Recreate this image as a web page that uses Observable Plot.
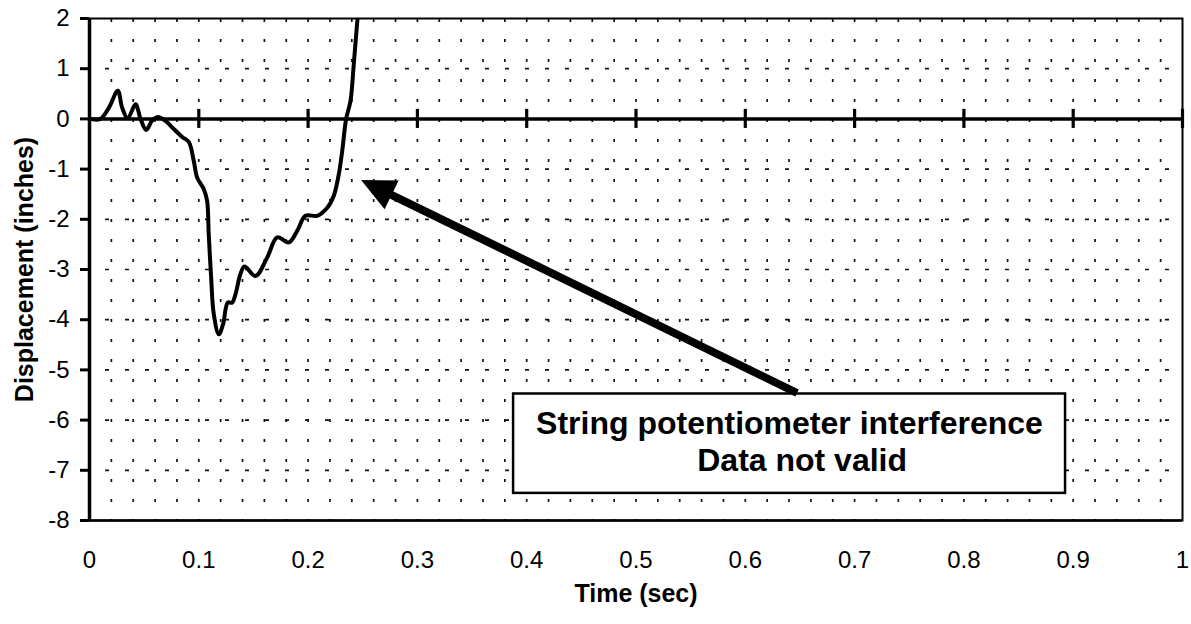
<!DOCTYPE html>
<html>
<head>
<meta charset="utf-8">
<script src="https://cdn.jsdelivr.net/npm/d3@7"></script>
<script src="https://cdn.jsdelivr.net/npm/@observablehq/plot@0.6"></script>
<style>
  html, body { margin: 0; padding: 0; background: #fff; }
  svg { display: block; }
</style>
</head>
<body>
<div id="chart"></div>
<script>
// ---- data ----
const timeSec = [0, 0.010, 0.0177, 0.0259, 0.0299, 0.035, 0.0421, 0.0467, 0.0519, 0.0574, 0.0629, 0.0695, 0.0771, 0.0848, 0.0909, 0.0954, 0.0985, 0.1046, 0.1076, 0.1091, 0.1113, 0.1137, 0.1183, 0.1222, 0.1265, 0.1305, 0.1336, 0.1381, 0.1418, 0.1519, 0.1626, 0.1717, 0.1824, 0.190, 0.1976, 0.2083, 0.2175, 0.2235, 0.2281, 0.2312, 0.2348, 0.2388, 0.2418, 0.2449, 0.2480];
const displacementIn = [0, 0.0, 0.22, 0.56, 0.22, 0.01, 0.29, 0.0, -0.22, -0.03, 0.04, -0.04, -0.20, -0.36, -0.46, -0.84, -1.17, -1.40, -1.63, -2.30, -3.16, -3.89, -4.29, -4.09, -3.66, -3.66, -3.49, -3.09, -2.94, -3.13, -2.76, -2.36, -2.46, -2.23, -1.93, -1.93, -1.77, -1.53, -1.10, -0.64, 0.0, 0.36, 1.09, 1.92, 2.6];

const xTicks = [0, 0.1, 0.2, 0.3, 0.4, 0.5, 0.6, 0.7, 0.8, 0.9, 1];
const yTicks = [2, 1, 0, -1, -2, -3, -4, -5, -6, -7, -8];
const xMinorGrid = d3.range(1, 50).map(i => i / 50);
const yDashedGrid = [1, -1, -2, -3, -4, -5, -6, -7];
const zeroLineTicks = [0.1, 0.2, 0.3, 0.4, 0.5, 0.6, 0.7, 0.8, 0.9, 1];

const xTitle = "Time (sec)";
const yTitle = "Displacement (inches)";

// annotation (in data units)
const noteLines = ["String potentiometer interference", "Data not valid"];
const noteX = [0.6404, 0.652];
const noteY = [-6.08, -6.81];
const noteBox = [{x1: 0.388, x2: 0.893, y1: -5.48, y2: -7.46}];
const arrowTail = {t: 0.6478, v: -5.47};
const arrowTip = {t: 0.2489, v: -1.227};

const series = timeSec.map((t, i) => ({t, v: displacementIn[i]}));
const notes = noteLines.map((text, i) => ({text, x: noteX[i], y: noteY[i]}));

const font = "'Liberation Sans', Arial, Helvetica, sans-serif";

const chart = Plot.plot({
  width: 1191,
  height: 624,
  marginLeft: 89,
  marginRight: 9,
  marginTop: 18,
  marginBottom: 104,
  style: {fontFamily: font, fontSize: "24px", background: "#fff", color: "#000"},
  x: {domain: [0, 1]},
  y: {domain: [-8, 2]},
  marks: [
    // grid
    Plot.ruleX(xMinorGrid, {stroke: "#111", strokeWidth: 1.7, strokeDasharray: "3,17", strokeDashoffset: -1}),
    Plot.ruleY(yDashedGrid, {stroke: "#111", strokeWidth: 1.7, strokeDasharray: "4,16", strokeDashoffset: 4}),
    Plot.frame({stroke: "#000", strokeWidth: 2}),
    // axes lines
    Plot.ruleX([0], {stroke: "#000", strokeWidth: 3.5}),
    Plot.ruleY([-8], {stroke: "#000", strokeWidth: 2.5}),
    Plot.ruleY([0], {stroke: "#000", strokeWidth: 3.5}),
    Plot.ruleX(zeroLineTicks, {y1: -0.19, y2: 0.19, stroke: "#000", strokeWidth: 3.2}),
    Plot.axisY({ticks: yTicks, tickFormat: d => String(d), tickSize: 9, tickPadding: 11, strokeWidth: 3, fontSize: 24, label: null}),
    Plot.axisX({ticks: xTicks, tickFormat: d => String(d), tickSize: 0, tickPadding: 30, fontSize: 24, label: null}),
    // titles
    Plot.text([xTitle], {frameAnchor: "bottom", dy: 81, fontSize: 25, fontWeight: "bold", fill: "#000", textAnchor: "middle"}),
    Plot.text([yTitle], {frameAnchor: "left", dx: -65, rotate: -90, fontSize: 25, fontWeight: "bold", fill: "#000", textAnchor: "middle"}),
    // data
    Plot.line(series, {x: "t", y: "v", curve: "catmull-rom", stroke: "#000", strokeWidth: 4, clip: true}),
    // annotation box
    Plot.rect(noteBox, {x1: "x1", x2: "x2", y1: "y1", y2: "y2", fill: "#fff", stroke: "#000", strokeWidth: 2.5}),
    Plot.text(notes, {x: "x", y: "y", text: "text", fontSize: 32, fontWeight: "bold", fill: "#000"})
  ]
});

// arrow (shaft + filled head) positioned through the plot's scales
const sx = chart.scale("x"), sy = chart.scale("y");
const tx = sx.apply(arrowTail.t), ty = sy.apply(arrowTail.v);
const hx = sx.apply(arrowTip.t), hy = sy.apply(arrowTip.v);
const dxA = tx - hx, dyA = ty - hy, len = Math.hypot(dxA, dyA);
const ux = dxA / len, uy = dyA / len;
const headLen = 34, headHalf = 16;
const bx = hx + ux * headLen, by = hy + uy * headLen;
const g = d3.select(chart).append("g");
g.append("line").attr("x1", tx).attr("y1", ty).attr("x2", bx - ux * 2).attr("y2", by - uy * 2)
  .attr("stroke", "#000").attr("stroke-width", 8);
g.append("polygon")
  .attr("points", [[hx, hy], [bx - uy * headHalf, by + ux * headHalf], [bx + uy * headHalf, by - ux * headHalf]].map(p => p.join(",")).join(" "))
  .attr("fill", "#000");

document.getElementById("chart").appendChild(chart);
</script>
</body>
</html>
